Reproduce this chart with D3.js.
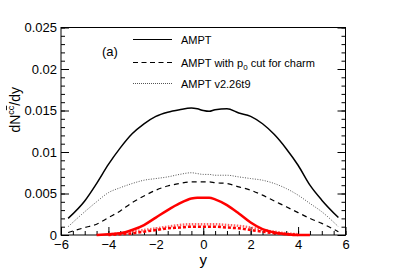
<!DOCTYPE html>
<html>
<head>
<meta charset="utf-8">
<script src="https://d3js.org/d3.v7.min.js"></script>
<style>
  body { margin: 0; background: #fff; }
  text { font-family: "Liberation Sans", Arial, sans-serif; }
</style>
</head>
<body>
<div id="chart"></div>
<script>
// rapidity points
var rapidity = [-5.7, -5, -4.5, -4, -3.5, -3, -2.5, -2, -1.5, -1, -0.5, -0.25, 0, 0.25, 0.5, 1, 1.5, 2, 2.5, 3, 3.5, 4, 4.5, 5, 5.7];

// dN/dy of c-cbar pairs
var amptBlack    = [.0020, .0041, .0062, .0085, .0105, .0122, .0134, .0143, .0148, .0151, .0153, .0152, .0150, .0149, .0151, .0152, .0147, .0143, .0134, .0121, .0104, .0084, .0060, .0042, .0021];
var p0cutBlack   = [.0003, .0009, .0013, .0021, .0029, .0039, .0047, .0054, .0059, .0062, .0064, .0064, .0064, .0064, .0063, .0062, .0058, .0054, .0048, .0041, .0034, .0027, .0020, .0014, .0004];
var v226Black    = [.0010, .0028, .0040, .0051, .0057, .0062, .0066, .0068, .0070, .0073, .0075, .0074, .0073, .0073, .0072, .0072, .0070, .0068, .0066, .0062, .0056, .0048, .0038, .0028, .0010];
var amptRed      = [null, null, .0000, .0001, .0002, .0006, .0012, .0021, .0030, .0038, .0044, .0045, .0045, .0045, .0043, .0036, .0026, .0015, .0007, .0003, .0001, .0000, .0000, null, null];
var p0cutRed     = [null, null, null, .0000, .0001, .0002, .0004, .0006, .0008, .0009, .0010, .0010, .0010, .0010, .0010, .0009, .0008, .0006, .0004, .0002, .0001, .0000, null, null, null];
var v226Red      = [null, null, null, .0001, .0002, .0004, .0006, .0008, .0010, .0012, .0013, .0013, .0013, .0013, .0013, .0012, .0011, .0009, .0006, .0004, .0002, .0001, null, null, null];

var yTicks = [0, 0.005, 0.01, 0.015, 0.02, 0.025];
var xTicks = [-6, -4, -2, 0, 2, 4, 6];
var legendLabels = ["AMPT", "AMPT with p", "AMPT v2.26t9"];

var W = 407, H = 277;
var margin = {top: 27.5, right: 61.5, bottom: 42, left: 61};
var width = W - margin.left - margin.right,
    height = H - margin.top - margin.bottom;

var svg = d3.select("#chart").append("svg")
    .attr("width", W).attr("height", H);
var g = svg.append("g")
    .attr("transform", "translate(" + margin.left + "," + margin.top + ")");

var x = d3.scaleLinear().domain([-6, 6]).range([0, width]);
var y = d3.scaleLinear().domain([0, 0.025]).range([height, 0]);

function fmt(d) { return d === 0 ? "0" : String(+d.toFixed(3)); }

// minor ticks
var yMinor = d3.range(0, 0.02501, 0.001);
var xMinor = d3.range(-6, 6.01, 0.5);

g.append("g").call(d3.axisLeft(y).tickValues(yMinor).tickSize(-4).tickFormat(""));
g.append("g").attr("transform", "translate(" + width + ",0)")
    .call(d3.axisRight(y).tickValues(yMinor).tickSize(-4).tickFormat(""));
g.append("g").attr("transform", "translate(0," + height + ")")
    .call(d3.axisBottom(x).tickValues(xMinor).tickSize(-4).tickFormat(""));

// major ticks
g.append("g")
    .call(d3.axisLeft(y).tickValues(yTicks).tickSize(-8).tickPadding(4).tickFormat(fmt));
g.append("g").attr("transform", "translate(" + width + ",0)")
    .call(d3.axisRight(y).tickValues(yTicks).tickSize(-8).tickFormat(""));
g.append("g").attr("transform", "translate(0," + height + ")")
    .call(d3.axisBottom(x).tickValues(xTicks).tickSize(-8).tickPadding(5).tickFormat(d3.format("d")));

g.selectAll(".domain").remove();
g.selectAll(".tick line").attr("stroke", "#000");
g.selectAll(".tick text").style("font-size", "13px").attr("fill", "#000");

g.append("rect").attr("width", width).attr("height", height)
    .attr("fill", "none").attr("stroke", "#000").attr("stroke-width", 1);

// curves
function drawCurve(vals, color, sw, dash) {
    var pts = rapidity.map(function(r, i) { return [r, vals[i]]; });
    var line = d3.line()
        .defined(function(d) { return d[1] !== null; })
        .x(function(d) { return x(d[0]); })
        .y(function(d) { return y(d[1]); })
        .curve(d3.curveMonotoneX);
    g.append("path").datum(pts)
        .attr("d", line)
        .attr("fill", "none")
        .attr("stroke", color)
        .attr("stroke-width", sw)
        .attr("stroke-dasharray", dash);
}

drawCurve(amptBlack, "#000", 1.5, null);
drawCurve(v226Black, "#555", 1, "1,1.5");
drawCurve(p0cutBlack, "#000", 1.2, "5,4");
drawCurve(v226Red, "#ff6060", 2.5, "1.5,1.5");
drawCurve(p0cutRed, "#ff0000", 2.5, "3,2");
drawCurve(amptRed, "#ff0000", 2.5, null);

// legend
var legY = [39.5, 62.5, 83.5];
var legStyles = [{c: "#000", w: 1.2, d: null}, {c: "#000", w: 1.1, d: "5,3.5"}, {c: "#555", w: 1, d: "1,1"}];
legendLabels.forEach(function(lab, i) {
    svg.append("line")
        .attr("x1", 133).attr("x2", 172).attr("y1", legY[i]).attr("y2", legY[i])
        .attr("stroke", legStyles[i].c).attr("stroke-width", legStyles[i].w)
        .attr("stroke-dasharray", legStyles[i].d);
    var t = svg.append("text").attr("x", 181).attr("y", legY[i] + 4)
        .style("font-size", "11px").text(lab);
    if (i === 1) {
        t.append("tspan").attr("dy", 3).style("font-size", "8px").text("0");
        t.append("tspan").attr("dy", -3).text(" cut for charm");
    }
});

svg.append("text").attr("x", 102).attr("y", 56)
    .style("font-size", "13px").text("(a)");

// axis titles
svg.append("text").attr("x", margin.left + x(0)).attr("y", 265)
    .attr("text-anchor", "middle").style("font-size", "15px").text("y");

var yl = svg.append("text")
    .attr("transform", "translate(20,87) rotate(-90)")
    .attr("text-anchor", "end").style("font-size", "14px");
yl.append("tspan").text("dN");
yl.append("tspan").attr("dy", -6).style("font-size", "9px").text("c");
yl.append("tspan").style("font-size", "9px").style("text-decoration", "overline").text("c");
yl.append("tspan").attr("dy", 6).text("/dy");
</script>
</body>
</html>
